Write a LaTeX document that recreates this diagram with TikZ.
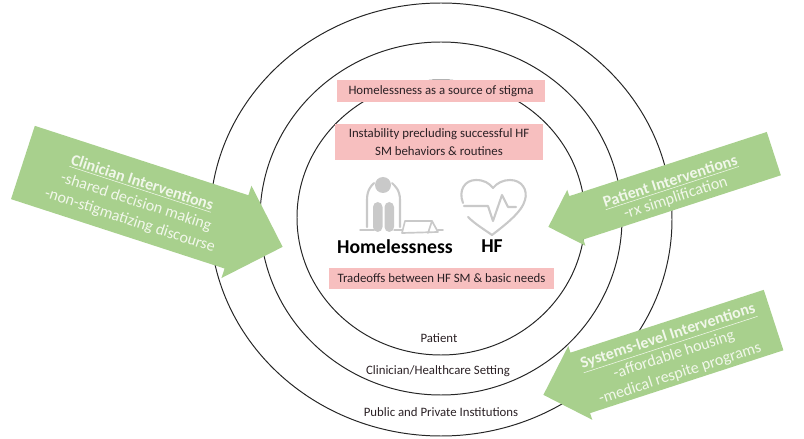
\documentclass[tikz,border=0pt]{standalone}
\usepackage{fontspec}
\setmainfont{Carlito}
\usetikzlibrary{shapes.arrows}
\definecolor{arrowgreen}{HTML}{A8D08D}
\definecolor{boxpink}{HTML}{F7BFBF}
\definecolor{icongrey}{HTML}{C9C9C9}
\definecolor{lighttext}{HTML}{F1F7EA}
\definecolor{darktext}{HTML}{2A2024}
\begin{document}
\begin{tikzpicture}[x=0.025cm,y=-0.025cm,
ring/.style = {draw=black!85, line width=0.7pt},
bar/.style = {fill=boxpink, inner sep=0pt, align=center, text=darktext, font=\fontsize{9.1}{12.5}\selectfont},
arrowbox/.style = {single arrow, fill=arrowgreen, inner xsep=0pt, anchor=tip},
armtext/.style = {align=center, text=lighttext, inner sep=0pt, font=\fontsize{11.4}{14}\selectfont},
ringlabel/.style = {text=darktext, inner sep=0pt, font=\fontsize{9.1}{11}\selectfont},
bigword/.style = {inner sep=0pt, font=\fontsize{14}{16}\selectfont\bfseries},
icon/.style = {draw=icongrey, line width=1.5pt, line cap=round, line join=round}]
\useasboundingbox (0,0) rectangle (804,439);
\draw [ring] (441,219.5) ellipse (231 and 216.5);
\draw [ring] (441,218.5) ellipse (181 and 176.5);
\draw [ring] (441,217.5) ellipse (144 and 137.5);
% pink boxes
\node[bar, minimum width=5.2cm, minimum height=0.55cm](stigma) at (441,91) {Homelessness as a source of stigma};
\node[bar, minimum width=5.2cm, minimum height=0.9cm](instability) at (439,142) {Instability precluding successful HF\\SM behaviors \& routines};
\node[bar, minimum width=5.625cm, minimum height=0.525cm](tradeoffs) at (441.5,278.5) {Tradeoffs between HF SM \& basic needs};
% person and tent
\fill [icongrey] (383,185) circle (8);
\draw [icon] (367,227) -- (367,200) .. controls (367,190) and (371,186) .. (374,183);
\draw [icon] (400,227) -- (400,200) .. controls (400,190) and (395,186) .. (392,183);
\fill [icongrey, rounded corners=3.5] (373,202) rectangle (382.5,232);
\fill [icongrey, rounded corners=3.5] (384.5,202) rectangle (394,232);
\draw [icon, line width=1pt] (360,230) -- (374,230) (394,230) -- (402,230);
\draw [icon, line width=1.2pt] (402,233) -- (405,221) -- (432,221) -- (438,232) -- cycle (432,221) -- (428,233) (438,230) -- (443,230);
% heart
\draw [icon] (463,203) .. controls (458,190) and (465,180) .. (476,180) .. controls (484,180) and (489,183) .. (493,188) .. controls (497,183) and (503,180) .. (510,180) .. controls (522,180) and (528,190) .. (525,200) .. controls (522,212) and (505,225) .. (492,235) .. controls (485,230) and (475,224) .. (468,217);
\draw [icon] (464,206) -- (488,206) -- (493,221) -- (502,195) -- (508,207) -- (516,207);
\node[bigword](homeless) at (395,247) {Homelessness};
\node[bigword](hf) at (492,246) {HF};
\node[ringlabel](patient) at (439,338) {Patient};
\node[ringlabel](clinician) at (438,371) {Clinician/Healthcare Setting};
\node[ringlabel](public) at (441,412) {Public and Private Institutions};
% green arrows
\node[arrowbox, rotate=-18, inner ysep=0.956cm, minimum height=6.825cm, single arrow head extend=0.25cm](clinicianarm) at (283,247) {};
\node[arrowbox, rotate=198, inner ysep=0.5625cm, minimum height=5.925cm, single arrow head extend=0.165cm](patientarm) at (548,227) {};
\node[arrowbox, rotate=198, inner ysep=0.7875cm, minimum height=6.05cm, single arrow head extend=0.175cm](systemsarm) at (543,395) {};
\node[armtext, rotate=-18](clinicianlist) at (136,202) {\textbf{\underline{Clinician Interventions}}\\-shared decision making\\-non-stigmatizing discourse};
\node[armtext, rotate=18, font=\fontsize{11.4}{12}\selectfont](patientlist) at (673,190) {\textbf{\underline{Patient Interventions}}\\-rx simplification};
\node[armtext, rotate=18](systemslist) at (674,355) {\textbf{\underline{Systems-level Interventions}}\\-affordable housing\\-medical respite programs};
\end{tikzpicture}
\end{document}
